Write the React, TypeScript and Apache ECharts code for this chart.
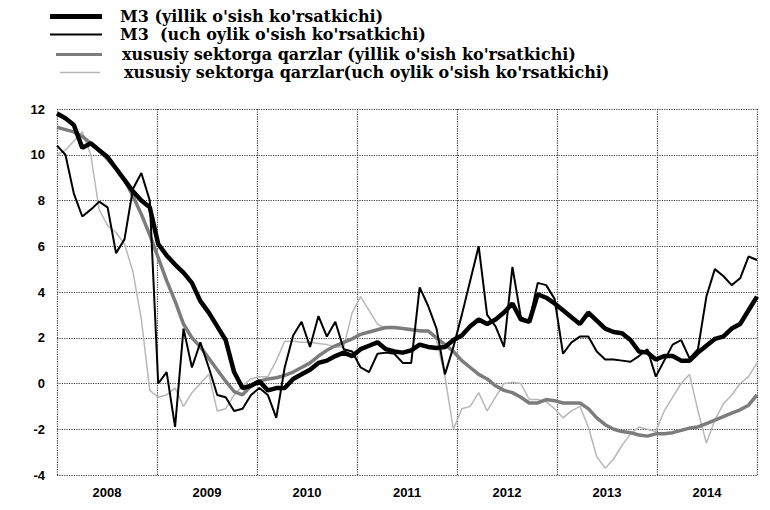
import React, { useEffect, useRef } from 'react';
import * as echarts from 'echarts';

const years = ['2008', '2009', '2010', '2011', '2012', '2013', '2014'];

const seriesNames = [
  "M3 (yillik o'sish ko'rsatkichi)",
  "M3  (uch oylik o'sish ko'rsatkichi)",
  "xususiy sektorga qarzlar (yillik o'sish ko'rsatkichi)",
  "xususiy sektorga qarzlar(uch oylik o'sish ko'rsatkichi)",
];

// monthly values, Jan 2008 .. Dec 2014
const m3Annual = [
  11.8, 11.6, 11.3, 10.3, 10.5, 10.2, 9.9, 9.4, 8.9, 8.4, 8.0, 7.7,
  6.1, 5.6, 5.2, 4.85, 4.4, 3.6, 3.1, 2.5, 1.9, 0.5, -0.2, -0.1,
  0.1, -0.3, -0.2, -0.2, 0.2, 0.4, 0.6, 0.9, 1.0, 1.2, 1.35, 1.2,
  1.5, 1.65, 1.8, 1.5, 1.4, 1.35, 1.45, 1.7, 1.6, 1.55, 1.6, 1.9,
  2.1, 2.5, 2.8, 2.6, 2.8, 3.1, 3.5, 2.8, 2.7, 3.9, 3.75, 3.5,
  3.2, 2.9, 2.6, 3.1, 2.75, 2.4, 2.25, 2.2, 1.9, 1.4, 1.35, 1.05,
  1.2, 1.2, 1.0, 1.0, 1.35, 1.65, 1.95, 2.05, 2.4, 2.6, 3.2, 3.8,
];

const m3Quarterly = [
  10.4, 10.0, 8.3, 7.3, 7.6, 7.95, 7.7, 5.7, 6.3, 8.5, 9.2, 8.0,
  0.0, 0.5, -1.9, 2.4, 0.7, 1.8, 0.7, -0.5, -0.6, -1.2, -1.1, -0.5,
  -0.2, -0.5, -1.5, 0.7, 2.1, 2.7, 1.6, 2.95, 2.05, 2.7, 1.5, 1.4,
  0.7, 0.5, 1.3, 1.35, 1.3, 0.9, 0.9, 4.2, 3.4, 2.4, 0.4, 1.6,
  3.0, 4.5, 6.0, 3.0, 2.5, 1.6, 5.1, 2.9, 2.7, 4.4, 4.3, 3.7,
  1.3, 1.8, 2.05, 2.05, 1.4, 1.05, 1.05, 1.0, 0.95, 1.2, 1.5, 0.3,
  1.0, 1.7, 1.9, 1.1, 1.5, 3.8, 5.0, 4.7, 4.3, 4.6, 5.55, 5.4,
];

const loansAnnual = [
  11.2, 11.1, 11.0, 10.8, 10.5, 10.2, 9.8, 9.4, 8.9, 8.2, 7.4, 6.5,
  5.5, 4.5, 3.6, 2.6, 2.0, 1.6, 1.1, 0.6, 0.1, -0.35, -0.5, -0.1,
  0.1, 0.2, 0.25, 0.35, 0.5, 0.7, 0.9, 1.2, 1.45, 1.65, 1.8, 1.95,
  2.15, 2.25, 2.35, 2.45, 2.45, 2.4, 2.35, 2.3, 2.3, 2.0, 1.7, 1.4,
  1.0, 0.7, 0.4, 0.2, -0.1, -0.3, -0.4, -0.6, -0.85, -0.85, -0.7, -0.75,
  -0.85, -0.85, -0.85, -1.1, -1.5, -1.8, -2.0, -2.1, -2.15, -2.25, -2.3, -2.2,
  -2.2, -2.15, -2.05, -1.95, -1.9, -1.75, -1.6, -1.45, -1.3, -1.15, -0.95, -0.5,
];

const loansQuarterly = [
  10.0, 10.2, 10.6, 11.0, 10.0, 7.6, 6.9, 6.6, 6.1, 4.9, 2.8, -0.3,
  -0.6, -0.5, -0.2, -1.0, -0.4, 0.0, 0.4, -1.2, -1.1, -0.5, -0.1, 0.2,
  0.3, 0.3, 1.0, 1.85, 1.85, 1.8, 1.8, 1.75, 1.7, 1.6, 1.6, 3.1,
  3.8, 3.2, 2.6, 2.4, 2.4, 2.4, 2.4, 2.35, 2.3, 1.9, 0.3, -2.0,
  -1.1, -1.0, -0.4, -1.2, -0.6, 0.0, 0.05, 0.0, -0.7, -0.7, -0.8, -1.1,
  -1.5, -1.2, -1.0, -1.9, -3.2, -3.7, -3.3, -2.7, -2.2, -1.9, -2.0, -2.1,
  -1.2, -0.6, 0.0, 0.4, -1.2, -2.6, -1.6, -0.9, -0.5, 0.0, 0.3, 0.9,
];

export default function App() {
  const ref = useRef<HTMLDivElement>(null);

  useEffect(() => {
    const chart = echarts.init(ref.current!, null, { renderer: 'svg' });
    const span = years.length * 12;
    const toPoints = (vals: number[]) =>
      vals.map((v, i) => [(i * span) / (vals.length - 1), v]);

    const styles = [
      { color: '#000000', width: 4.5, z: 6, legendH: 5, legendW: 52, legendLeft: 50 },
      { color: '#000000', width: 2, z: 5, legendH: 2, legendW: 52, legendLeft: 50 },
      { color: '#7c7c7c', width: 3.5, z: 4, legendH: 3, legendW: 46, legendLeft: 56 },
      { color: '#b8b8b8', width: 1.5, z: 3, legendH: 1.5, legendW: 40, legendLeft: 60 },
    ];
    const allData = [m3Annual, m3Quarterly, loansAnnual, loansQuarterly];
    const legendTops = [8.5, 26.5, 46.5, 64.5];
    const textLeftPad = [13, 13, 15, 17];

    const gridLine = { color: '#3c3c3c', type: 'dotted', width: 1.2 };

    const option: any = {
      animation: false,
      backgroundColor: '#ffffff',
      legend: seriesNames.map((name, k) => ({
        data: [name],
        left: styles[k].legendLeft,
        top: legendTops[k],
        padding: 0,
        icon: 'rect',
        itemWidth: styles[k].legendW,
        itemHeight: styles[k].legendH,
        selectedMode: false,
        textStyle: {
          fontFamily: 'DejaVu Serif',
          fontWeight: 'bold',
          fontSize: 16,
          lineHeight: 15,
          color: '#000',
          padding: [0, 0, 0, textLeftPad[k] + (50 + 52 - styles[k].legendLeft - styles[k].legendW)],
        },
      })),
      grid: { left: 57, right: 13, top: 109, bottom: 35, containLabel: false },
      xAxis: [
        {
          type: 'value',
          min: 0,
          max: span,
          interval: 12,
          axisLabel: { show: false },
          axisTick: { show: false },
          axisLine: { show: false },
          splitLine: { show: true, lineStyle: gridLine },
          position: 'bottom',
        },
        {
          type: 'category',
          data: years,
          boundaryGap: true,
          position: 'bottom',
          axisLine: { show: false },
          axisTick: { show: false },
          splitLine: { show: false },
          axisLabel: {
            margin: 11,
            fontFamily: 'Liberation Sans',
            fontWeight: 'bold',
            fontSize: 13,
            color: '#000',
          },
        },
      ],
      yAxis: {
        type: 'value',
        min: -4,
        max: 12,
        interval: 2,
        axisLine: { show: false },
        axisTick: { show: false },
        splitLine: { show: true, lineStyle: gridLine },
        axisLabel: {
          margin: 12,
          fontFamily: 'Liberation Sans',
          fontWeight: 'bold',
          fontSize: 13,
          color: '#000',
        },
      },
      series: seriesNames.map((name, k) => ({
        name,
        type: 'line',
        xAxisIndex: 0,
        yAxisIndex: 0,
        data: toPoints(allData[k]),
        symbol: 'none',
        showSymbol: false,
        z: styles[k].z,
        lineStyle: { color: styles[k].color, width: styles[k].width },
        itemStyle: { color: styles[k].color },
      })),
    };

    chart.setOption(option);
    return () => chart.dispose();
  }, []);

  return (
    <div
      ref={ref}
      style={{ width: 770, height: 510, position: 'absolute', left: 0, top: 0, background: '#fff' }}
    />
  );
}
